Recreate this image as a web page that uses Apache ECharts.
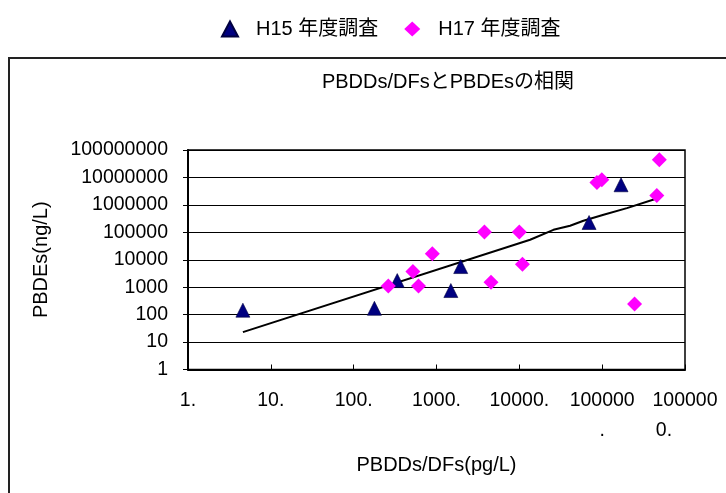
<!DOCTYPE html>
<html>
<head>
<meta charset="utf-8">
<script src="https://cdn.jsdelivr.net/npm/echarts@6/dist/echarts.min.js"></script>
<style>html,body{margin:0;padding:0;background:#fff}#c{width:726px;height:493px}</style>
</head>
<body>
<div id="c"></div>
<script>
// ---- data ----
var seriesNames = ['H15 年度調査', 'H17 年度調査'];
// H15 (x: PBDDs/DFs pg/L, y: PBDEs ng/L)
var h15 = [[4.6, 145], [178, 170], [336, 1740], [1490, 755], [1960, 5650], [69500, 228000], [169000, 5400000]];
// H17
var h17 = [[262, 1110], [519, 3700], [606, 1110], [890, 16500], [3790, 102000], [4550, 1520],
           [10000, 102000], [10900, 6920], [86500, 6600000], [99000, 8300000], [246000, 246],
           [490000, 44000000], [457000, 2200000]];
// trend line vertices
var trend = [[4.6, 23], [13500, 53500], [25800, 123000], [41000, 173000], [59400, 263000],
             [104000, 435000], [199000, 763000], [477000, 1780000]];
var xTickLabels = ['1.', '10.', '100.', '1000.', '10000.', '100000.', '1000000.'];
var yTickLabels = ['1', '10', '100', '1000', '10000', '100000', '1000000', '10000000', '100000000'];
var titleText = 'PBDDs/DFsとPBDEsの相関';
var xName = 'PBDDs/DFs(pg/L)';
var yName = 'PBDEs(ng/L)';

var FONT = '"Liberation Sans", Arial, "Noto Sans CJK JP", sans-serif';
var chart = echarts.init(document.getElementById('c'));
chart.setOption({
  animation: false,
  backgroundColor: '#fff',
  textStyle: { fontFamily: FONT, color: '#000' },
  title: {
    text: titleText, left: 443, textAlign: 'center', top: 67,
    textStyle: { fontFamily: FONT, fontSize: 20, fontWeight: 'normal', color: '#000' }
  },
  legend: {
    data: seriesNames, left: 216, top: 14, itemWidth: 16, itemHeight: 15, itemGap: 26,
    textStyle: { fontFamily: FONT, fontSize: 20, color: '#000', padding: [0, 0, 0, 13] }
  },
  graphic: [{
    type: 'rect', z: -10, silent: true,
    shape: { x: 9, y: 58, width: 900, height: 600 },
    style: { fill: 'none', stroke: '#222', lineWidth: 2 }
  }],
  grid: {
    left: 188, right: 41, top: 150, bottom: 123.5,
    show: true, borderColor: '#000', borderWidth: 1.5, backgroundColor: 'transparent',
    outerBoundsMode: 'none', containLabel: false
  },
  xAxis: {
    type: 'log', logBase: 10, min: 1, max: 1000000, interval: 1,
    name: xName, nameLocation: 'middle', nameGap: 86,
    nameTextStyle: { fontFamily: FONT, fontSize: 20, color: '#000' },
    axisLine: { show: true, lineStyle: { color: '#000', width: 2 } },
    axisTick: { show: true, inside: true, length: 5, lineStyle: { color: '#000', width: 1 } },
    splitLine: { show: false },
    axisLabel: {
      fontFamily: FONT, fontSize: 19.5, color: '#000', margin: 16, lineHeight: 30,
      showMinLabel: true, showMaxLabel: true,
      formatter: function (v) {
        var s = xTickLabels[Math.round(Math.log10(v))];
        if (s.length > 6) {
          var rest = s.slice(6);
          return s.slice(0, 6) + '\n' + (rest.length > 1 ? '{s|' + rest + '}' : rest);
        }
        return s;
      },
      rich: { s: { fontFamily: FONT, fontSize: 19.5, color: '#000', lineHeight: 30, padding: [0, 42, 0, 0] } }
    }
  },
  yAxis: {
    type: 'log', logBase: 10, min: 1, max: 100000000, interval: 1,
    name: yName, nameLocation: 'middle', nameGap: 137, nameRotate: 90,
    nameTextStyle: { fontFamily: FONT, fontSize: 20, color: '#000' },
    axisLine: { show: true, lineStyle: { color: '#000', width: 2 } },
    axisTick: { show: true, inside: false, length: 5, lineStyle: { color: '#000', width: 1 } },
    splitLine: { show: true, lineStyle: { color: '#000', width: 1 } },
    axisLabel: {
      fontFamily: FONT, fontSize: 19.5, color: '#000', margin: 20,
      showMinLabel: true, showMaxLabel: true,
      formatter: function (v) { return yTickLabels[Math.round(Math.log10(v))]; }
    }
  },
  series: [
    {
      name: 'trend', type: 'line', data: trend, showSymbol: false, symbol: 'none', z: 1,
      lineStyle: { color: '#000', width: 2 }, silent: true
    },
    {
      name: seriesNames[0], type: 'scatter', data: h15, symbol: 'triangle', symbolSize: 14, z: 3,
      itemStyle: { color: '#000080', borderColor: '#000040', borderWidth: 0.6, opacity: 1 }
    },
    {
      name: seriesNames[1], type: 'scatter', data: h17, symbol: 'diamond', symbolSize: 15, z: 3,
      itemStyle: { color: '#FF00FF', opacity: 1 }
    }
  ]
});
</script>
</body>
</html>
